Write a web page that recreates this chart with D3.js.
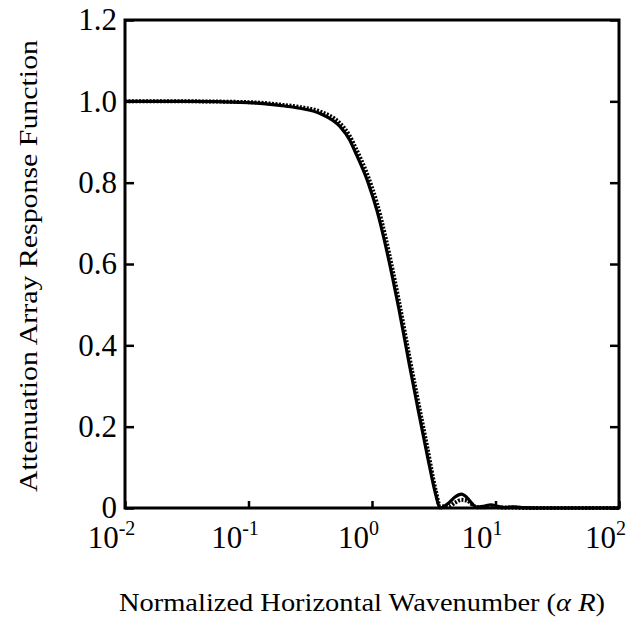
<!DOCTYPE html>
<html lang="en">
<head>
	<meta charset="UTF-8">
	<title>attenuation response</title>
	<script src="https://cdn.jsdelivr.net/npm/d3@7/dist/d3.min.js"></script>
	<style>
		body { margin: 0; background: #fff; }
		text { font-family: "Liberation Serif", "DejaVu Serif", serif; fill: #000; }
	</style>
</head>
<body>
	<script>
	// values
	var waveNum = [0.01, 0.03, 0.1, 0.18, 0.26, 0.38, 0.55, 0.66, 0.72, 0.93, 1.1, 1.3, 1.47, 1.65, 2.0, 2.3, 2.8, 3.3, 3.55, 4.2, 4.7, 5.3, 5.9, 6.5, 7.0, 8.0, 9.2, 10.5, 12, 14, 17, 22, 30, 100];
	var solidResp = [1.0, 1.0, 0.997, 0.99, 0.983, 0.97, 0.938, 0.905, 0.88, 0.80, 0.73, 0.64, 0.565, 0.49, 0.355, 0.26, 0.13, 0.03, 0, 0.013, 0.027, 0.034, 0.025, 0.01, 0.002, 0.004, 0.008, 0.004, 0.001, 0.003, 0.001, 0, 0, 0];
	var dottedResp = [1.0, 1.0, 0.998, 0.992, 0.986, 0.975, 0.946, 0.915, 0.892, 0.815, 0.748, 0.66, 0.585, 0.51, 0.375, 0.28, 0.15, 0.04, 0.005, 0.004, 0.013, 0.02, 0.018, 0.008, 0.002, 0.002, 0.004, 0.002, 0.001, 0.001, 0, 0, 0, 0];
	var xTicks = [0.01, 0.1, 1, 10, 100];
	var xTickExp = ['-2', '-1', '0', '1', '2'];
	var yTicks = [0, 0.2, 0.4, 0.6, 0.8, 1.0, 1.2];

	var width = 634,
		height = 623;

	var padding = {
		top: 20,
		bottom: 115,
		left: 125,
		right: 15
	};

	var svg = d3.select('body').append('svg')
		.attr('width', width)
		.attr('height', height);

	var xScale = d3.scaleLog()
		.domain([0.01, 100])
		.range([padding.left, width - padding.right]);
	var yScale = d3.scaleLinear()
		.domain([0, 1.2])
		.range([height - padding.bottom, padding.top]);

	function drawAxis() {
		var yAxis = d3.axisLeft(yScale)
			.tickValues(yTicks)
			.tickSize(-9)
			.tickPadding(8)
			.tickFormat(d => d === 0 ? '0' : d3.format('.1f')(d));

		var gy = svg.append('g')
			.attr('transform', `translate(${padding.left},0)`)
			.call(yAxis);
		gy.select('.domain').remove();
		gy.selectAll('line').attr('stroke-width', 2.5);
		gy.selectAll('text')
			.style('font-size', '31px')
			.attr('dy', '0.32em');

		var gr = svg.append('g')
			.attr('transform', `translate(${width - padding.right},0)`)
			.call(d3.axisRight(yScale).tickValues(yTicks).tickSize(-9).tickFormat(''));
		gr.select('.domain').remove();
		gr.selectAll('line').attr('stroke-width', 2.5);

		var xAxis = d3.axisBottom(xScale)
			.tickValues(xTicks)
			.tickSize(-7)
			.tickFormat('');

		var gx = svg.append('g')
			.attr('transform', `translate(0,${height - padding.bottom})`)
			.call(xAxis);
		gx.select('.domain').remove();
		gx.selectAll('line').attr('stroke-width', 2.5);

		var lab = gx.selectAll('.tick').append('text')
			.attr('y', 40)
			.attr('x', -14)
			.attr('text-anchor', 'middle')
			.style('font-size', '31px');
		lab.append('tspan').text('10');
		lab.append('tspan')
			.attr('dy', -13)
			.style('font-size', '20px')
			.text((d, i) => xTickExp[i]);

		// frame
		svg.append('rect')
			.attr('x', padding.left)
			.attr('y', padding.top)
			.attr('width', width - padding.left - padding.right)
			.attr('height', height - padding.top - padding.bottom)
			.attr('fill', 'none')
			.attr('stroke', '#000')
			.attr('stroke-width', 3);

		var xt = svg.append('text')
			.attr('x', 362)
			.attr('y', 611)
			.attr('text-anchor', 'middle')
			.attr('textLength', 486)
			.attr('lengthAdjust', 'spacingAndGlyphs')
			.style('font-size', '25px');
		xt.append('tspan').text('Normalized Horizontal Wavenumber (');
		xt.append('tspan').style('font-style', 'italic').text('\u03b1 R');
		xt.append('tspan').text(')');

		svg.append('text')
			.attr('transform', 'translate(37,266) rotate(-90)')
			.attr('text-anchor', 'middle')
			.attr('textLength', 452)
			.attr('lengthAdjust', 'spacingAndGlyphs')
			.style('font-size', '25px')
			.text('Attenuation Array Response Function');
	}

	function drawCurves() {
		var line = d3.line()
			.x(d => xScale(d[0]))
			.y(d => yScale(d[1]))
			.curve(d3.curveMonotoneX);

		svg.append('path')
			.datum(waveNum.map((w, i) => [w, dottedResp[i]]))
			.attr('d', line)
			.attr('fill', 'none')
			.attr('stroke', '#000')
			.attr('stroke-width', 4)
			.attr('stroke-dasharray', '2,1.5');

		svg.append('path')
			.datum(waveNum.map((w, i) => [w, solidResp[i]]))
			.attr('d', line)
			.attr('fill', 'none')
			.attr('stroke', '#000')
			.attr('stroke-width', 3.2);
	}

	drawAxis();
	drawCurves();
	</script>
</body>
</html>
